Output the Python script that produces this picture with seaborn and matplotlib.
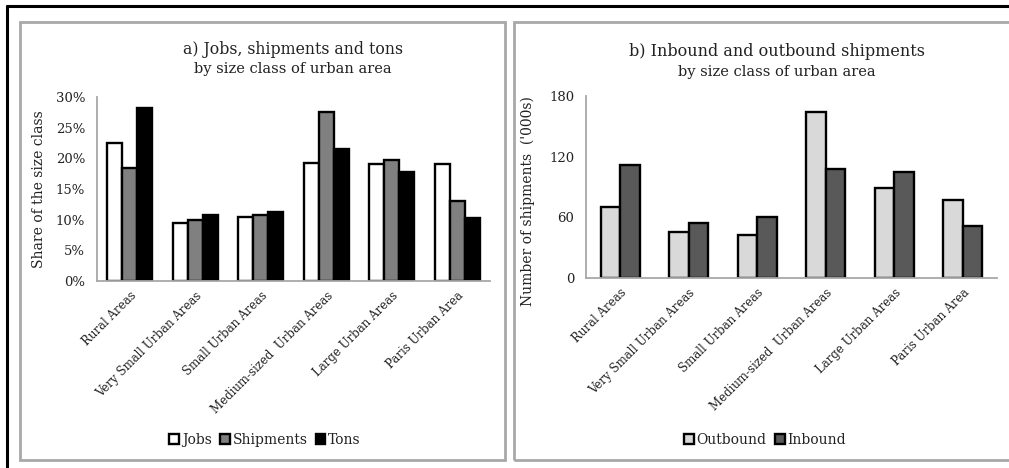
import matplotlib
matplotlib.use("Agg")
import matplotlib.pyplot as plt
import matplotlib.ticker as mticker
from matplotlib.patches import Rectangle
from matplotlib.lines import Line2D
import pandas as pd
import seaborn as sns

# data
areas = ["Rural Areas", "Very Small Urban Areas", "Small Urban Areas",
         "Medium-sized  Urban Areas", "Large Urban Areas", "Paris Urban Area"]
jobs = [22.5, 9.4, 10.5, 19.3, 19.1, 19.0]
shipments = [18.5, 10.0, 10.7, 27.6, 19.8, 13.0]
tons = [28.2, 10.7, 11.2, 21.6, 17.8, 10.2]
outbound = [70, 45.5, 43, 164, 89.5, 77]
inbound = [112, 54, 60.5, 108, 105, 51.5]

share_df = pd.DataFrame({
    "area": areas * 3,
    "series": ["Jobs"] * 6 + ["Shipments"] * 6 + ["Tons"] * 6,
    "value": jobs + shipments + tons,
})
ship_df = pd.DataFrame({
    "area": areas * 2,
    "series": ["Outbound"] * 6 + ["Inbound"] * 6,
    "value": outbound + inbound,
})

sns.set_style("white")
plt.rcParams["font.family"] = ["DejaVu Serif"]
plt.rcParams["text.color"] = "#222222"
plt.rcParams["axes.labelcolor"] = "#222222"
plt.rcParams["xtick.color"] = "#222222"
plt.rcParams["ytick.color"] = "#222222"

W, H = 1009, 468
fig = plt.figure(figsize=(W / 100, H / 100), dpi=100)


def fbox(x0, y0, x1, y1):
    # pixel box -> figure fraction [left, bottom, width, height]
    return [x0 / W, 1 - y1 / H, (x1 - x0) / W, (y1 - y0) / H]


# outer black frame lines and grey panel borders
fig.add_artist(Line2D([7 / W, 1], [1 - 6 / H, 1 - 6 / H], color="black", lw=2.2))
fig.add_artist(Line2D([7 / W, 7 / W], [0, 1 - 6 / H], color="black", lw=2.2))
for x0, x1 in [(20, 505), (514, 1012)]:
    b = fbox(x0, 22, x1, 460)
    fig.add_artist(Rectangle((b[0], b[1]), b[2], b[3], fill=False,
                             edgecolor="#a8a8a8", lw=2, transform=fig.transFigure))

axa = fig.add_axes(fbox(97, 97, 490, 281))
axb = fig.add_axes(fbox(586, 96, 997, 278))

sns.barplot(data=share_df, x="area", y="value", hue="series", ax=axa,
            palette=["white", "#808080", "black"], edgecolor="black",
            linewidth=1.7, width=0.68, gap=0)
sns.barplot(data=ship_df, x="area", y="value", hue="series", ax=axb,
            palette=["#d9d9d9", "#595959"], edgecolor="black",
            linewidth=1.7, width=0.57, gap=0)

axa.set_ylim(0, 30)
axa.yaxis.set_major_locator(mticker.MultipleLocator(5))
axa.yaxis.set_major_formatter(mticker.FuncFormatter(lambda v, p: f"{v:.0f}%"))
axb.set_ylim(0, 180)
axb.set_yticks([0, 60, 120, 180])

for ax in (axa, axb):
    ax.set_xlim(-0.5, 5.5)
    sns.despine(ax=ax)
    for s in ("left", "bottom"):
        ax.spines[s].set_color("#a8a8a8")
        ax.spines[s].set_linewidth(1.3)
    ax.set_xticks(range(6))
    ax.set_xticklabels(areas, rotation=45, ha="right", rotation_mode="anchor",
                       fontsize=8.5)
    ax.set_xticks([i - 0.5 for i in range(7)], minor=True)
    ax.tick_params(axis="x", which="major", length=0, pad=6)
    ax.tick_params(axis="x", which="minor", length=5, width=1.2, color="#a8a8a8")
    ax.tick_params(axis="y", length=5, width=1.2, color="#a8a8a8", labelsize=9.5)
    ax.set_xlabel("")

axa.set_ylabel("Share of the size class", fontsize=10)
axa.yaxis.set_label_coords(-0.13, 0.5)
axb.set_ylabel("Number of shipments  ('000s)", fontsize=10)
axb.yaxis.set_label_coords(-0.125, 0.42)

# titles
fig.text(293 / W, 1 - 49 / H, "a) Jobs, shipments and tons", ha="center",
         va="center", fontsize=11.3)
fig.text(293 / W, 1 - 69 / H, "by size class of urban area", ha="center",
         va="center", fontsize=10.5)
fig.text(777 / W, 1 - 52 / H, "b) Inbound and outbound shipments", ha="center",
         va="center", fontsize=11.5)
fig.text(777 / W, 1 - 72 / H, "by size class of urban area", ha="center",
         va="center", fontsize=10.5)

# legends below
for ax, cx in [(axa, 265), (axb, 765)]:
    h, l = ax.get_legend_handles_labels()
    ax.legend(h, l, loc="center", bbox_to_anchor=(cx / W, 1 - 440 / H),
              bbox_transform=fig.transFigure, ncol=len(l), frameon=False,
              fontsize=10, handlelength=0.7, handleheight=0.7,
              handletextpad=0.2, columnspacing=0.6, borderaxespad=0)

fig.savefig("out.png", dpi=100)
